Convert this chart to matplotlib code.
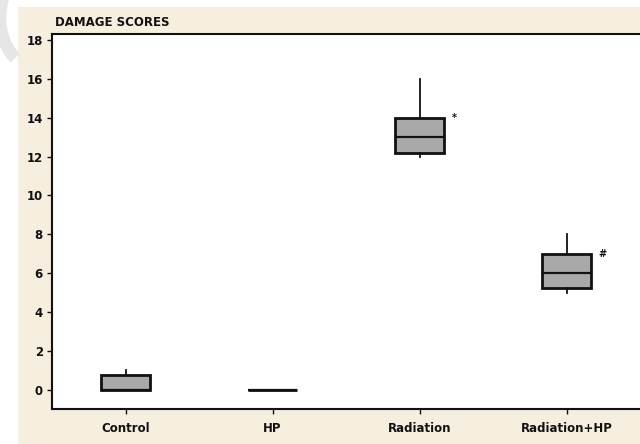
import matplotlib
matplotlib.use("Agg")
import matplotlib.pyplot as plt
from matplotlib.patches import Rectangle, Arc

categories = ["Control", "HP", "Radiation", "Radiation+HP"]
whis_lo = [0.0, 0.0, 12.0, 5.0]
q1 = [0.0, 0.0, 12.2, 5.25]
median = [0.0, 0.0, 13.0, 6.0]
q3 = [0.75, 0.0, 14.0, 7.0]
whis_hi = [1.0, 0.0, 16.0, 8.0]
marks = ["", "", "*", "#"]
y_ticks = [0, 2, 4, 6, 8, 10, 12, 14, 16, 18]
title = "DAMAGE SCORES"

W, H = 640, 444
fig = plt.figure(figsize=(6.4, 4.44), dpi=100, facecolor="white")
fig.patches.append(Rectangle((18 / W, 0), 1 - 18 / W, 1 - 7 / H,
                             transform=fig.transFigure, facecolor="#f6efe0",
                             edgecolor="none", zorder=-2))
fig.patches.append(Arc((42 / W, 1 - 18 / H), 84 / W, 104 / H, theta1=120, theta2=245,
                       transform=fig.transFigure, color="#e6e6e6", lw=9, zorder=-1))

ax = fig.add_axes([52 / W, 1 - 409 / H, 1 - 52 / W, (409 - 34) / H])
ax.set_zorder(2)
ax.set_facecolor("white")

stats = []
for i, c in enumerate(categories):
    stats.append(dict(label=c, whislo=whis_lo[i], q1=q1[i], med=median[i],
                      q3=q3[i], whishi=whis_hi[i], fliers=[]))
pos = list(range(1, len(categories) + 1))
ax.bxp(stats, positions=pos, widths=0.34, patch_artist=True, showcaps=False,
       boxprops=dict(facecolor="#a9a9a9", edgecolor="#111111", linewidth=2.0),
       medianprops=dict(color="#111111", linewidth=1.6),
       whiskerprops=dict(color="#111111", linewidth=1.3))

for i, m in enumerate(marks):
    if m:
        ax.text(pos[i] + 0.22, q3[i], m, fontsize=7, fontweight="bold",
                ha="left", va="center", color="#111111")

ax.set_xlim(0.5, 4.5)
ax.set_ylim(-0.98, 18.3)
ax.set_yticks(y_ticks)
ax.set_xticks(pos)
ax.set_xticklabels(categories)
ax.tick_params(axis="both", direction="out", length=3.5, width=1.0,
               colors="#111111", labelsize=8.5)
for lab in ax.get_xticklabels() + ax.get_yticklabels():
    lab.set_fontweight("bold")
    lab.set_color("#111111")
ax.tick_params(axis="x", pad=6)
ax.tick_params(axis="y", pad=3)
for s in ["left", "bottom", "top"]:
    ax.spines[s].set_linewidth(1.5)
    ax.spines[s].set_color("#111111")
ax.spines["right"].set_visible(False)

fig.text(55 / W, 1 - 22 / H, title, fontsize=8.5, fontweight="semibold",
         ha="left", va="center", color="#111111")

fig.savefig("out.png", dpi=100, facecolor=fig.get_facecolor())
